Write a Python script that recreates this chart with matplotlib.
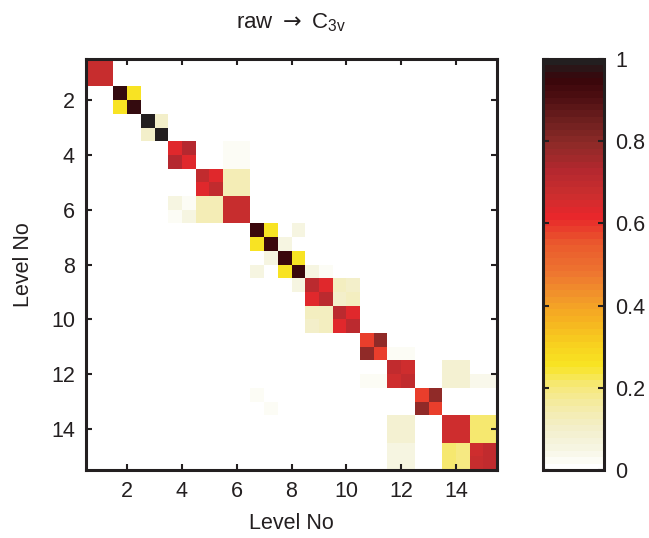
import numpy as np
import matplotlib
matplotlib.use("Agg")
import matplotlib.pyplot as plt
from matplotlib.colors import LinearSegmentedColormap

plt.rcParams['font.family'] = ['Liberation Sans', 'DejaVu Sans']
plt.rcParams['mathtext.default'] = 'regular'

# levels 1..15, every level drawn as 2x2 sub-state cells
n_levels = 15
level_ticks = [2, 4, 6, 8, 10, 12, 14]
cbar_ticks = [0, 0.2, 0.4, 0.6, 0.8, 1]
cbar_labels = ['0', '0.2', '0.4', '0.6', '0.8', '1']

# nonzero blocks: row level, col level, [[a-a, a-b], [b-a, b-b]]
block_rows = [1, 2, 3, 4, 4, 5, 5, 6, 6, 6, 7, 7, 8, 8, 8, 9, 9, 9,
              10, 10, 11, 11, 12, 12, 12, 12, 13, 13, 14, 14, 14, 15, 15, 15]
block_cols = [1, 2, 3, 4, 6, 5, 6, 4, 5, 6, 7, 8, 7, 8, 9, 8, 9, 10,
              9, 10, 11, 12, 11, 12, 14, 15, 7, 13, 12, 14, 15, 12, 14, 15]
block_vals = [
    [[.68, .68], [.68, .68]],
    [[.96, .26], [.26, .96]],
    [[.99, .10], [.10, .99]],
    [[.63, .73], [.73, .63]],
    [[.03, .03], [.03, .03]],
    [[.69, .63], [.63, .69]],
    [[.14, .14], [.14, .14]],
    [[.05, .02], [.02, .05]],
    [[.14, .14], [.13, .14]],
    [[.68, .68], [.68, .68]],
    [[.95, .25], [.25, .95]],
    [[0, .06], [.05, 0]],
    [[0, .05], [.06, 0]],
    [[.95, .25], [.25, .95]],
    [[0, 0], [.06, .03]],
    [[0, .06], [0, 0]],
    [[.71, .64], [.64, .71]],
    [[.11, .10], [.10, .11]],
    [[.12, .12], [.10, .12]],
    [[.71, .64], [.64, .71]],
    [[.59, .79], [.79, .59]],
    [[0, 0], [.03, .03]],
    [[0, 0], [.03, .03]],
    [[.69, .67], [.67, .69]],
    [[.08, .08], [.08, .08]],
    [[0, 0], [.04, .04]],
    [[.03, 0], [0, .03]],
    [[.59, .79], [.79, .59]],
    [[.08, .08], [.08, .08]],
    [[.67, .67], [.67, .67]],
    [[.21, .21], [.21, .21]],
    [[.05, .05], [.05, .05]],
    [[.21, .19], [.21, .20]],
    [[.66, .69], [.68, .70]],
]

# colormap picked off the colorbar (white -> yellow -> red -> black)
cmap_pos = [0.0, 0.05, 0.10, 0.15, 0.20, 0.25, 0.30, 0.36, 0.42, 0.48,
            0.55, 0.62, 0.67, 0.73, 0.80, 0.86, 0.92, 0.96, 1.0]
cmap_cols = ['#ffffff', '#f6f4e0', '#f3efc8', '#f4eba6', '#f6e97a', '#f8e423',
             '#f8d21f', '#f6b420', '#f2962a', '#ee7530', '#ea5a2d', '#e8262b',
             '#cc2e2e', '#b5282f', '#8c2a27', '#6b1e1e', '#4a0d10', '#38060a',
             '#231f20']
cmap = LinearSegmentedColormap.from_list('wyrk', list(zip(cmap_pos, cmap_cols)), N=64)

M = np.zeros((2 * n_levels, 2 * n_levels))
for r, c, v in zip(block_rows, block_cols, block_vals):
    M[2 * (r - 1):2 * r, 2 * (c - 1):2 * c] = v

edges = np.arange(0.5, n_levels + 0.51, 0.5)

fig = plt.figure(figsize=(6.49, 5.38), dpi=100)
ax = fig.add_axes([86 / 649, 68 / 538, 411 / 649, 411 / 538])
mesh = ax.pcolormesh(edges, edges, M, cmap=cmap, vmin=0, vmax=1, shading='flat')
ax.set_xlim(0.5, n_levels + 0.5)
ax.set_ylim(n_levels + 0.5, 0.5)
ax.set_xticks(level_ticks)
ax.set_yticks(level_ticks)
ax.tick_params(direction='in', length=4, width=1.5, top=True, right=True,
               labelsize=15.5, pad=8, colors='#231f20')
for s in ax.spines.values():
    s.set_linewidth(2.2)
    s.set_color('#231f20')
ax.set_xlabel('Level No', fontsize=15.5, labelpad=8, color='#231f20')
ax.set_ylabel('Level No', fontsize=15.5, labelpad=12, color='#231f20')
ax.set_title(r'raw ${\mathsf{\rightarrow}}$ C$_{3v}$', fontsize=16, pad=22, color='#231f20')

cax = fig.add_axes([543 / 649, 68 / 538, 61 / 649, 411 / 538])
cb = fig.colorbar(mesh, cax=cax)
cb.set_ticks(cbar_ticks)
cb.set_ticklabels(cbar_labels)
cb.outline.set_linewidth(2.2)
cb.outline.set_edgecolor('#231f20')
cax.tick_params(direction='in', length=4, width=1.5, left=True, right=True,
                labelsize=15.5, pad=8, colors='#231f20')

fig.savefig('out.png', dpi=100)
